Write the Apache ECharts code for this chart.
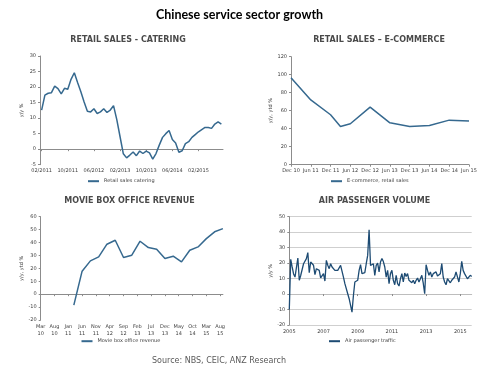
<!DOCTYPE html>
<html><head><meta charset="utf-8">
<script src="https://cdn.jsdelivr.net/npm/echarts@6/dist/echarts.min.js"></script>
<style>html,body{margin:0;padding:0;background:#fff}#c{width:500px;height:379px}</style>
</head><body><div id="c"></div>
<script>
const MON = ['Jan','Feb','Mar','Apr','May','Jun','Jul','Aug','Sep','Oct','Nov','Dec'];
function months(y, m, n, fmt) {
  const out = [];
  for (let i = 0; i < n; i++) {
    const k = m - 1 + i;
    out.push(fmt(y + Math.floor(k / 12), (k % 12) + 1));
  }
  return out;
}

// Retail sales - catering, y/y %, monthly from 02/2011
const cateringValues = [12.6,17.4,18.0,18.2,20.3,19.5,17.8,19.6,19.3,22.5,24.6,21.5,18.5,15.2,12.2,12.0,13.0,11.5,12.0,13.0,11.8,12.6,14.0,9.5,4.0,-1.5,-2.8,-1.9,-0.9,-2.1,-0.6,-1.4,-0.6,-1.2,-3.2,-1.4,1.3,3.8,5.0,6.0,3.1,2.0,-1.0,-0.5,1.8,2.4,3.8,4.7,5.6,6.3,7.0,7.0,6.7,8.1,8.8,8.1];
const cateringCats = months(2011, 2, cateringValues.length, (y, m) => String(m).padStart(2, '0') + '/' + y);

// Retail sales - e-commerce, y/y ytd %, quarterly axis
const ecomCats = ['Dec 10','Mar 11','Jun 11','Sep 11','Dec 11','Mar 12','Jun 12','Sep 12','Dec 12','Mar 13','Jun 13','Sep 13','Dec 13','Mar 14','Jun 14','Sep 14','Dec 14','Mar 15','Jun 15'];
const ecomValues = [96.5,null,72,null,55.5,42.5,45.5,null,64,null,46.5,null,42.5,null,43.5,null,49.5,null,48.5];

// Movie box office revenue, y/y ytd %, quarterly readings on a monthly axis from Mar 10
const movieCats = months(2010, 3, 67, (y, m) => MON[m - 1] + '\n' + String(y % 100).padStart(2, '0'));
const movieStart = 12;
const movieQuarterly = [-8.5,17.8,25.8,28.9,38.7,41.8,28.4,30.2,41.0,36.1,34.8,27.6,29.4,25.0,34.0,36.6,43.0,48.3,50.8];
const movieValues = movieCats.map((c, i) => (i >= movieStart && (i - movieStart) % 3 === 0) ? movieQuarterly[(i - movieStart) / 3] : null);

// Air passenger traffic, y/y %, monthly from Jan 2005
const airValues = [-10,22.5,17.5,13,11,10,23.3,8.9,12,13,19.6,20.7,22.9,26.8,13.8,20.7,20.7,18.6,12.5,16.4,17.5,15.3,10.4,11,13.2,8.4,21.8,18.6,16.4,19.6,17.5,16.8,15.3,14.7,15.3,16.4,18.6,19,11,6.7,5.6,0.2,-3,-2,-11.7,-0.9,7.8,8.2,8.9,15.3,19,13.2,14.3,13.8,19.6,25,41.5,18.5,18.6,19.6,12,18.6,20,14.3,20.7,
  23,21,17.5,11,15.3,6.7,13.2,15.3,8.9,6,12.1,6.7,5.2,9.9,13.2,7.8,13.6,11.4,13.2,8.9,9.9,7.3,8.9,6.7,8.9,10.4,7.8,9.9,12.1,7,0.2,19,15.3,12.1,14.3,11,13.2,12.1,14.3,11.7,11,13.2,19.7,11,7.8,6,9.9,8.9,7.3,8.9,7.8,11,14.3,13.2,7.8,13.2,21.2,15.3,13.2,12.1,9.9,11,12.1,11.4];
const airCats = months(2005, 1, airValues.length, (y, m) => MON[m - 1] + ' ' + y);

const FONT = 'DejaVu Sans';
const LINE = '#36698f';
const LINE_AIR = '#1d4b73';
const AXIS = '#8c8c8c';
const TXT = '#404040';
const TS = 5;

const lab = (extra) => Object.assign({ fontFamily: FONT, fontSize: TS, color: TXT }, extra || {});

function yAx(grid, min, max, interval, name, gap, split) {
  return {
    type: 'value', gridIndex: grid, min: min, max: max, interval: interval,
    name: name, nameLocation: 'middle', nameGap: gap, nameRotate: 90,
    nameTextStyle: { fontFamily: FONT, fontSize: TS, color: TXT },
    axisLine: { show: true, onZero: false, lineStyle: { color: AXIS, width: 1 } },
    axisTick: { show: true, length: 2, lineStyle: { color: AXIS } },
    axisLabel: lab({ margin: 4 }),
    splitLine: { show: !!split, lineStyle: { color: '#cfcfcf', width: 1 } }
  };
}

const option = {
  animation: false,
  backgroundColor: '#fff',
  textStyle: { fontFamily: FONT },
  graphic: [
    { type: 'text', x: 239.5, y: 15, style: { text: 'Chinese service sector growth', font: 'bold 12.5px Lato', fill: '#000', textAlign: 'center', textVerticalAlign: 'middle' } },
    { type: 'text', x: 128, y: 40, style: { text: 'RETAIL SALES - CATERING', font: 'bold 8px "DejaVu Sans"', fill: '#4a4a4a', textAlign: 'center', textVerticalAlign: 'middle' } },
    { type: 'text', x: 379, y: 40, style: { text: 'RETAIL SALES \u2013 E-COMMERCE', font: 'bold 8px "DejaVu Sans"', fill: '#4a4a4a', textAlign: 'center', textVerticalAlign: 'middle' } },
    { type: 'text', x: 129.5, y: 200.5, style: { text: 'MOVIE BOX OFFICE REVENUE', font: 'bold 8px "DejaVu Sans"', fill: '#4a4a4a', textAlign: 'center', textVerticalAlign: 'middle' } },
    { type: 'text', x: 374.5, y: 200.5, style: { text: 'AIR PASSENGER VOLUME', font: 'bold 8px "DejaVu Sans"', fill: '#4a4a4a', textAlign: 'center', textVerticalAlign: 'middle' } },
    { type: 'text', x: 219, y: 360.7, style: { text: 'Source: NBS, CEIC, ANZ Research', font: '8px "DejaVu Sans"', fill: '#595959', textAlign: 'center', textVerticalAlign: 'middle' } }
  ],
  grid: [
    { left: 40, top: 56, width: 183, height: 108.7 },
    { left: 291, top: 56.7, width: 178, height: 108 },
    { left: 40.7, top: 216.7, width: 182.2, height: 103.3 },
    { left: 289.3, top: 216.7, width: 182.4, height: 108.3 }
  ],
  legend: [
    { data: ['Retail sales catering'], left: 88, top: 178.7, padding: 0, itemWidth: 11, itemHeight: 2, icon: 'rect', textStyle: lab() },
    { data: ['E-commerce, retail sales'], left: 331, top: 178.7, padding: 0, itemWidth: 11, itemHeight: 2, icon: 'rect', textStyle: lab() },
    { data: ['Movie box office revenue'], left: 81.5, top: 338.7, padding: 0, itemWidth: 11, itemHeight: 2, icon: 'rect', textStyle: lab() },
    { data: ['Air passenger traffic'], left: 329, top: 338.7, padding: 0, itemWidth: 11, itemHeight: 2, icon: 'rect', textStyle: lab() }
  ],
  xAxis: [
    // 0 catering labels
    { type: 'category', gridIndex: 0, data: cateringCats, position: 'bottom', boundaryGap: true,
      axisLine: { show: false, onZero: false }, axisTick: { show: false },
      axisLabel: lab({ interval: 7, margin: 4 }) },
    // 1 catering zero line
    { type: 'category', gridIndex: 0, data: cateringCats, position: 'bottom', boundaryGap: true,
      axisLine: { show: true, onZero: true, lineStyle: { color: AXIS } },
      axisTick: { show: true, interval: 7, alignWithLabel: true, length: 2, lineStyle: { color: AXIS } },
      axisLabel: { show: false } },
    // 2 e-commerce
    { type: 'category', gridIndex: 1, data: ecomCats, position: 'bottom', boundaryGap: false,
      axisLine: { show: true, onZero: false, lineStyle: { color: AXIS } },
      axisTick: { show: true, interval: 1, length: 2, lineStyle: { color: AXIS } },
      axisLabel: lab({ interval: 1, margin: 4 }) },
    // 3 movie labels
    { type: 'category', gridIndex: 2, data: movieCats, position: 'bottom', boundaryGap: false,
      axisLine: { show: false, onZero: false }, axisTick: { show: false },
      axisLabel: lab({ interval: 4, margin: 3, lineHeight: 7.4 }) },
    // 4 movie zero line
    { type: 'category', gridIndex: 2, data: movieCats, position: 'bottom', boundaryGap: false,
      axisLine: { show: true, onZero: true, lineStyle: { color: AXIS } },
      axisTick: { show: true, interval: 4, length: 2, lineStyle: { color: AXIS } },
      axisLabel: { show: false } },
    // 5 air labels
    { type: 'category', gridIndex: 3, data: airCats, position: 'bottom', boundaryGap: false,
      axisLine: { show: false, onZero: false }, axisTick: { show: false },
      axisLabel: lab({ interval: 23, margin: 4, formatter: (v) => v.split(' ')[1] }) },
    // 6 air zero line
    { type: 'category', gridIndex: 3, data: airCats, position: 'bottom', boundaryGap: false,
      axisLine: { show: true, onZero: true, lineStyle: { color: '#bdbdbd' } },
      axisTick: { show: true, interval: 23, length: 2, lineStyle: { color: AXIS } },
      axisLabel: { show: false } }
  ],
  yAxis: [
    yAx(0, -5, 30, 5, 'y/y %', 16, false),
    yAx(1, 0, 120, 20, 'y/y, ytd %', 17, false),
    yAx(2, -20, 60, 10, 'y/y, ytd %', 15, false),
    yAx(3, -20, 50, 10, 'y/y %', 15, true)
  ],
  series: [
    { name: 'Retail sales catering', type: 'line', xAxisIndex: 0, yAxisIndex: 0, data: cateringValues,
      showSymbol: false, symbol: 'none', lineStyle: { color: LINE, width: 1.5 }, itemStyle: { color: LINE } },
    { name: 'E-commerce, retail sales', type: 'line', xAxisIndex: 2, yAxisIndex: 1, data: ecomValues, connectNulls: true,
      showSymbol: false, symbol: 'none', lineStyle: { color: LINE, width: 1.5 }, itemStyle: { color: LINE } },
    { name: 'Movie box office revenue', type: 'line', xAxisIndex: 3, yAxisIndex: 2, data: movieValues, connectNulls: true,
      showSymbol: false, symbol: 'none', lineStyle: { color: LINE, width: 1.5 }, itemStyle: { color: LINE } },
    { name: 'Air passenger traffic', type: 'line', xAxisIndex: 5, yAxisIndex: 3, data: airValues,
      showSymbol: false, symbol: 'none', lineStyle: { color: LINE_AIR, width: 1.3 }, itemStyle: { color: LINE_AIR } }
  ]
};

const chart = echarts.init(document.getElementById('c'), null, { renderer: 'canvas' });
chart.setOption(option);
</script>
</body></html>
